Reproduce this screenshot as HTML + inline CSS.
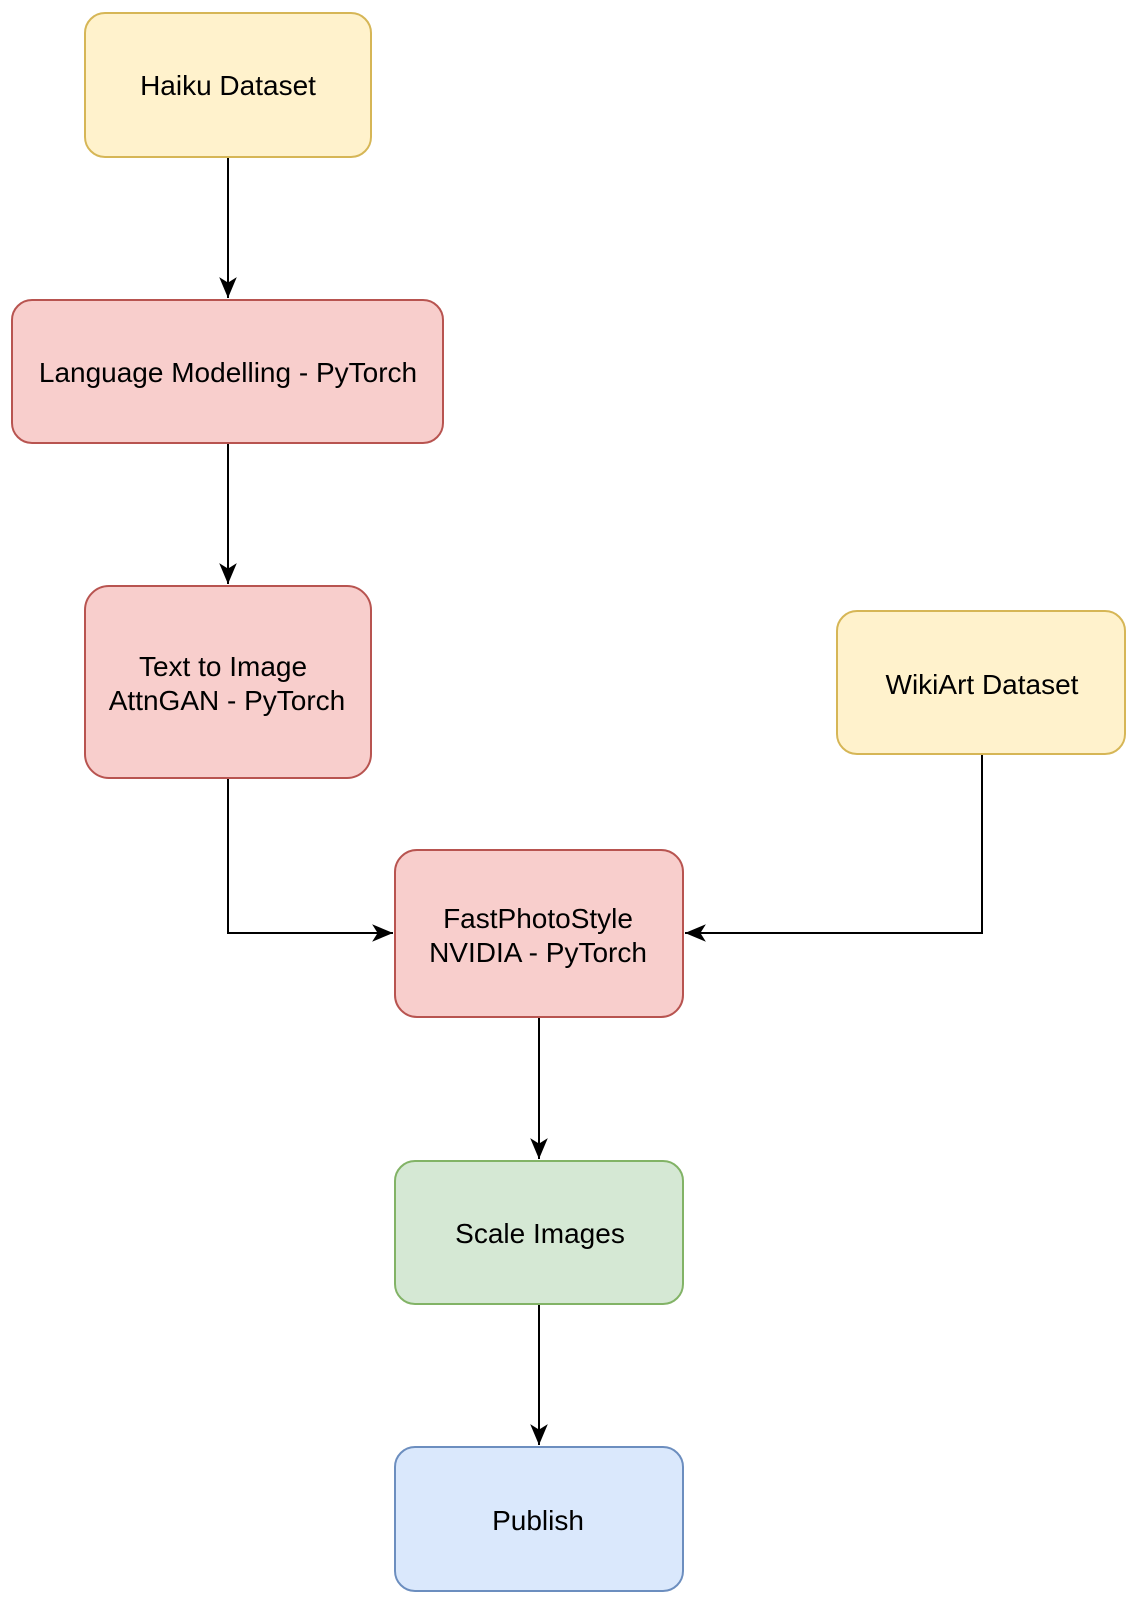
<!DOCTYPE html>
<html><head><meta charset="utf-8"><style>html,body{margin:0;padding:0;background:#fff}</style></head>
<body>
<svg width="1135" height="1600" xmlns="http://www.w3.org/2000/svg" font-family="'Liberation Sans', sans-serif" font-size="28" text-anchor="middle">
<defs>
<marker id="b" viewBox="0 0 20 20" markerWidth="22" markerHeight="22" refX="19" refY="10" orient="auto" markerUnits="userSpaceOnUse"><path d="M0,2 L19,10 L0,18 L5,10 Z" fill="#000"/></marker></defs>
<g stroke="#000" stroke-width="2" fill="none">
<path d="M228,157 V298" marker-end="url(#b)"/>
<path d="M228,443 V584" marker-end="url(#b)"/>
<path d="M228,778 V933 H393" marker-end="url(#b)"/>
<path d="M982,754 V933 H685" marker-end="url(#b)"/>
<path d="M539,1017 V1159" marker-end="url(#b)"/>
<path d="M539,1304 V1445" marker-end="url(#b)"/>
</g>
<g stroke-width="2">
<rect x="85" y="13" width="286" height="144" rx="20" fill="#fff2cc" stroke="#d6b656"/>
<rect x="12" y="300" width="431" height="143" rx="20" fill="#f8cecc" stroke="#b85450"/>
<rect x="85" y="586" width="286" height="192" rx="24" fill="#f8cecc" stroke="#b85450"/>
<rect x="837" y="611" width="288" height="143" rx="20" fill="#fff2cc" stroke="#d6b656"/>
<rect x="395" y="850" width="288" height="167" rx="22" fill="#f8cecc" stroke="#b85450"/>
<rect x="395" y="1161" width="288" height="143" rx="20" fill="#d5e8d4" stroke="#82b366"/>
<rect x="395" y="1447" width="288" height="144" rx="20" fill="#dae8fc" stroke="#6c8ebf"/>
</g>
<g fill="#000">
<text x="228" y="95">Haiku Dataset</text>
<text x="228" y="382">Language Modelling - PyTorch</text>
<text x="223" y="676">Text to Image</text>
<text x="227" y="710">AttnGAN - PyTorch</text>
<text x="982" y="694">WikiArt Dataset</text>
<text x="538" y="928">FastPhotoStyle</text>
<text x="538" y="962">NVIDIA - PyTorch</text>
<text x="540" y="1243">Scale Images</text>
<text x="538" y="1530">Publish</text>
</g>
</svg>
</body></html>
